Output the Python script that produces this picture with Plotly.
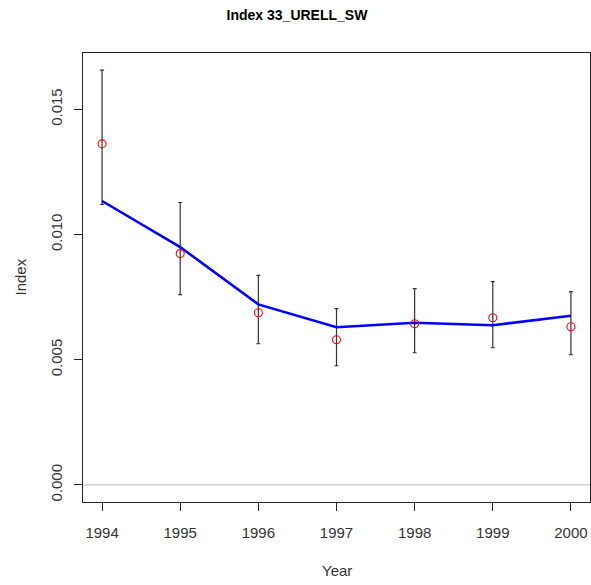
import plotly.graph_objects as go

years = [1994, 1995, 1996, 1997, 1998, 1999, 2000]
observed = [0.01362, 0.00924, 0.00688, 0.00580, 0.00644, 0.00668, 0.00632]
upper = [0.01657, 0.01128, 0.00837, 0.00704, 0.00784, 0.00812, 0.00772]
lower = [0.01120, 0.00760, 0.00564, 0.00476, 0.00528, 0.00548, 0.00520]
fitted = [0.01134, 0.00950, 0.00721, 0.00630, 0.00648, 0.00638, 0.00676]
x_ticks = [1994, 1995, 1996, 1997, 1998, 1999, 2000]
y_ticks = [0.000, 0.005, 0.010, 0.015]
y_tick_text = ["0.000", "0.005", "0.010", "0.015"]

W, H = 591, 585
FONT = "Liberation Sans, Arial, sans-serif"

fig = go.Figure()

# zero reference line
fig.add_shape(type="line", xref="paper", yref="y", x0=0, x1=1, y0=0, y1=0,
              line=dict(color="#c8c8c8", width=1.2), layer="below")

# error bars
fig.add_trace(go.Scatter(
    x=years, y=observed, mode="markers",
    marker=dict(size=1, color="rgba(0,0,0,0)"),
    error_y=dict(type="data", symmetric=False,
                 array=[u - o for u, o in zip(upper, observed)],
                 arrayminus=[o - l for o, l in zip(observed, lower)],
                 color="#333333", thickness=1.2, width=2),
    showlegend=False, hoverinfo="skip"))

# fitted line
fig.add_trace(go.Scatter(x=years, y=fitted, mode="lines",
                         line=dict(color="#0000ff", width=2.6),
                         showlegend=False))

# observed points
fig.add_trace(go.Scatter(x=years, y=observed, mode="markers",
                         marker=dict(symbol="circle-open", size=8,
                                     color="#ff0000", line=dict(width=1.1)),
                         showlegend=False))

fig.update_layout(
    width=W, height=H,
    margin=dict(l=83, r=1, t=53, b=83),
    paper_bgcolor="white", plot_bgcolor="white",
    font=dict(family=FONT, size=15, color="#333333"),
    title=dict(text="<b>Index 33_URELL_SW</b>", xref="container", yref="container",
               x=297 / W, xanchor="center", y=1 - 15 / H, yanchor="middle",
               font=dict(family=FONT, size=14, color="#000000")),
    xaxis=dict(range=[1993.756, 2000.244], tickvals=x_ticks,
               ticktext=[str(v) for v in x_ticks],
               showgrid=False, zeroline=False,
               showline=True, linecolor="#222222", linewidth=1.2, mirror=True,
               ticks="outside", ticklen=8, tickcolor="#222222", tickwidth=1.2,
               ticklabelstandoff=9,
               tickfont=dict(size=15, color="#333333")),
    yaxis=dict(range=[-0.00068, 0.01725], tickvals=y_ticks, ticktext=y_tick_text,
               tickangle=-90,
               showgrid=False, zeroline=False,
               showline=True, linecolor="#222222", linewidth=1.2, mirror=True,
               ticks="outside", ticklen=8, tickcolor="#222222", tickwidth=1.2,
               ticklabelstandoff=6,
               tickfont=dict(size=15, color="#333333")),
    annotations=[
        dict(text="Year", xref="paper", yref="paper", x=0.5, y=-(570 - 501.5) / (501.5 - 53),
             xanchor="center", yanchor="middle", showarrow=False,
             font=dict(size=15, color="#333333")),
        dict(text="Index", xref="paper", yref="paper", x=-(83 - 20) / (590 - 83), y=0.5,
             xanchor="center", yanchor="middle", textangle=-90, showarrow=False,
             font=dict(size=15, color="#333333")),
    ],
)

fig.write_html("out.html")
